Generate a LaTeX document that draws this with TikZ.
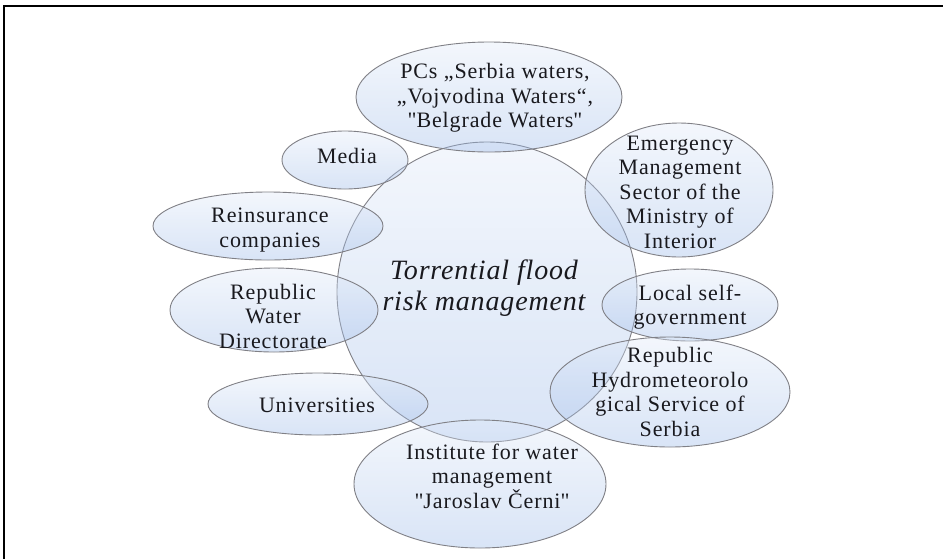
\documentclass[tikz,border=0pt]{standalone}
\usepackage{fontspec}
\setmainfont{Liberation Serif}
\usetikzlibrary{shapes.geometric}
\definecolor{ellfill}{RGB}{150,182,232}
\definecolor{ellline}{RGB}{128,128,134}
\definecolor{txt}{RGB}{25,25,30}
\newcommand{\sq}{\XeTeXglyph\XeTeXcharglyph"22\relax}
\begin{document}
\begin{tikzpicture}[x=1pt,y=-1pt,
  bubble/.style={ellipse, draw=ellline, line width=0.9pt, top color=ellfill!30, bottom color=ellfill, fill opacity=0.36, draw opacity=1, inner sep=0pt},
  lbl/.style={align=center, inner sep=0pt, text=txt, font=\fontsize{22}{24.5}\selectfont\addfontfeatures{LetterSpace=4}},
  centrelbl/.style={align=center, inner sep=0pt, text=txt, font=\fontsize{28}{31}\selectfont\itshape\addfontfeatures{LetterSpace=3}}
]
\useasboundingbox (0,0) rectangle (943,558);
\fill[white] (0,0) rectangle (943,558);
\draw[line width=2pt] (4,562) -- (4,6) -- (947,6);

% central circle
\node[bubble, circle, minimum size=300pt] (ecent) at (487,292) {};
% surrounding bubbles
\node[bubble, minimum width=266pt, minimum height=110pt] (epcs) at (489,97) {};
\node[bubble, minimum width=126pt, minimum height=58pt] (emedia) at (345,160) {};
\node[bubble, minimum width=230pt, minimum height=68pt] (ereins) at (268,226) {};
\node[bubble, minimum width=208pt, minimum height=84pt] (erwd) at (274,310) {};
\node[bubble, minimum width=220pt, minimum height=62pt] (euniv) at (318,404) {};
\node[bubble, minimum width=252pt, minimum height=128pt] (einst) at (480,484) {};
\node[bubble, minimum width=188pt, minimum height=134pt] (eemerg) at (679,190) {};
\node[bubble, minimum width=176pt, minimum height=72pt] (elocal) at (690,305) {};
\node[bubble, minimum width=240pt, minimum height=110pt] (ehydro) at (670,392) {};

% labels
\node[centrelbl] (tcent) at (484,288) {Torrential flood\\risk management};
\node[lbl] (tpcs) at (495,98) {PCs „Serbia waters,\\„Vojvodina Waters“,\\\sq Belgrade Waters\sq};
\node[lbl] (tmedia) at (347,156) {Media};
\node[lbl] (treins) at (270,230) {Reinsurance\\companies};
\node[lbl] (trwd) at (273,316) {Republic\\Water\\Directorate};
\node[lbl] (tuniv) at (317,405) {Universities};
\node[lbl] (tinst) at (492,476) {Institute for water\\management\\\sq Jaroslav Černi\sq};
\node[lbl] (temerg) at (680,192) {Emergency\\Management\\Sector of the\\Ministry of\\Interior};
\node[lbl] (tlocal) at (690,307) {Local self-\\government};
\node[lbl] (thydro) at (670,392) {Republic\\Hydrometeorolo\\gical Service of\\Serbia};
\end{tikzpicture}
\end{document}
